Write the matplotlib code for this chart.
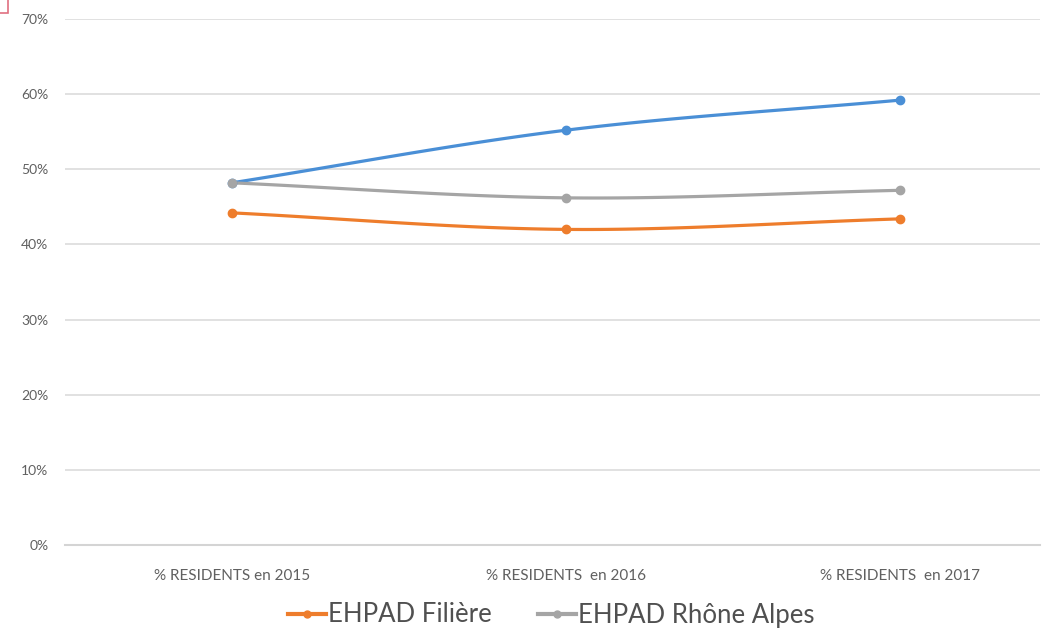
import numpy as np
import matplotlib
matplotlib.use("Agg")
import matplotlib.pyplot as plt
from matplotlib.lines import Line2D
from matplotlib.patches import Rectangle

categories = ["% RESIDENTS en 2015", "% RESIDENTS  en 2016", "% RESIDENTS  en 2017"]
blue_vals = [48.2, 55.2, 59.2]
filiere_vals = [44.2, 42.0, 43.4]
rhone_vals = [48.2, 46.2, 47.2]
yticks = [0, 10, 20, 30, 40, 50, 60, 70]
ytick_labels = ["0%", "10%", "20%", "30%", "40%", "50%", "60%", "70%"]

c_blue = "#4a8fd6"
c_orange = "#ee7d2c"
c_gray = "#a5a5a5"
txt = "#606060"

plt.rcParams['font.family'] = ['Lato', 'DejaVu Sans']

fig = plt.figure(figsize=(10.51, 6.31), dpi=100)
ax = fig.add_axes([65/1051, (631-545)/631, (1040-65)/1051, (545-19)/631])


def smooth(xs, ys, n=40):
    # Catmull-Rom style curve through the points (Excel "smoothed line")
    xs = np.asarray(xs, float); ys = np.asarray(ys, float)
    px = np.concatenate([[2*xs[0]-xs[1]], xs, [2*xs[-1]-xs[-2]]])
    py = np.concatenate([[2*ys[0]-ys[1]], ys, [2*ys[-1]-ys[-2]]])
    ox, oy = [], []
    t = np.linspace(0, 1, n)
    for i in range(1, len(px)-2):
        p0, p1, p2, p3 = (np.array([px[j], py[j]]) for j in (i-1, i, i+1, i+2))
        b1 = p1 + (p2 - p0) / 6
        b2 = p2 - (p3 - p1) / 6
        pts = ((1-t)**3)[:, None]*p1 + (3*(1-t)**2*t)[:, None]*b1 + (3*(1-t)*t**2)[:, None]*b2 + (t**3)[:, None]*p2
        ox.extend(pts[:, 0]); oy.extend(pts[:, 1])
    return np.array(ox), np.array(oy)

x = np.arange(len(categories))
for vals, col in [(blue_vals, c_blue), (rhone_vals, c_gray), (filiere_vals, c_orange)]:
    sx, sy = smooth(x, vals)
    ax.plot(sx, sy, color=col, lw=2.3, solid_capstyle='round', zorder=3)
    ax.plot(x, vals, 'o', color=col, ms=6, zorder=4)

ax.set_xlim(-0.5, 2.42)
ax.set_ylim(0, 70)
ax.set_yticks(yticks)
ax.set_yticklabels(ytick_labels)
ax.set_xticks(x)
ax.set_xticklabels(categories)
ax.tick_params(axis='y', length=0, pad=12, labelsize=10, labelcolor=txt)
ax.tick_params(axis='x', length=0, pad=17, labelsize=11, labelcolor=txt)
ax.grid(axis='y', color='#dcdcdc', lw=1.2)
ax.set_axisbelow(True)
for s in ax.spines.values():
    s.set_visible(False)
ax.axhline(0, color='#d4d4d4', lw=1.5, zorder=1, clip_on=False)

handles = [Line2D([0], [0], color=c_orange, lw=3, marker='o', ms=5),
           Line2D([0], [0], color=c_gray, lw=3, marker='o', ms=5)]
fig.legend(handles, ["EHPAD Filière", "EHPAD Rhône Alpes"], loc='center',
           bbox_to_anchor=(551/1051, (631-615)/631), ncol=2, frameon=False,
           fontsize=18.5, labelcolor='#505050', handlelength=1.5, handletextpad=0.05,
           columnspacing=1.8)

fig.patches.append(Rectangle((-0.01, 1 - 13/631), 8/1051 + 0.01, 0.05, transform=fig.transFigure,
                             fill=False, edgecolor='#e07080', lw=1.2))

fig.savefig("out.png", dpi=100)
